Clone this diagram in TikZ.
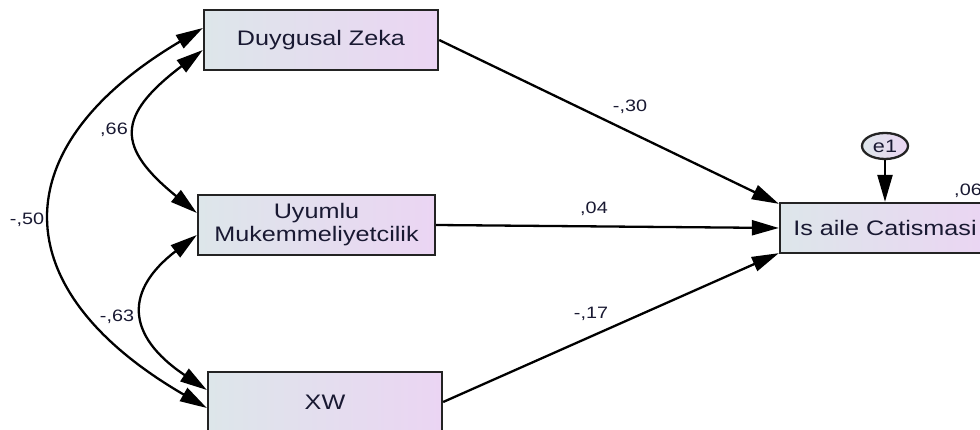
\documentclass[tikz,border=0pt]{standalone}
\usepackage{fontspec}
\setmainfont{Liberation Sans}
\usepackage{graphicx}
\usetikzlibrary{arrows.meta,shapes.geometric}
\definecolor{txt}{RGB}{25,25,50}
\definecolor{fillL}{RGB}{221,230,234}
\definecolor{fillR}{RGB}{235,213,243}
\definecolor{edge}{RGB}{35,35,35}
\newcommand{\sx}[1]{\scalebox{1.2}[1]{#1}}
\tikzset{
  box/.style={draw=edge, line width=2.3pt, left color=fillL, right color=fillR,
    text=txt, font={\fontsize{21}{23}\selectfont}, align=center, inner sep=0pt},
  lbl/.style={text=txt, font={\fontsize{16.5}{18}\selectfont}, inner sep=0pt},
  tip/.tip={Triangle[length=27pt,width=15pt]},
  arr/.style={line width=2.3pt, draw=black, -tip},
  cov/.style={line width=2.3pt, draw=black, tip-tip},
}
\begin{document}
\begin{tikzpicture}[x=1pt,y=-1pt]
\useasboundingbox (0,0) rectangle (980,430);
\fill[white] (0,0) rectangle (980,430);
\clip (0,0) rectangle (980,430);
% boxes
\node[box, minimum width=234pt, minimum height=60pt] (dz) at (321,40) {\sx{Duygusal Zeka}};
\node[box, minimum width=237pt, minimum height=60pt] (um) at (316.5,225) {\sx{Uyumlu}\\\sx{Mukemmeliyetcilik}};
\node[box, minimum width=234pt, minimum height=60pt] (xw) at (325,402) {\sx{XW}};
\node[box, minimum width=210pt, minimum height=50pt] (ia) at (885,228) {\sx{Is aile Catismasi}};
\node[draw=edge, line width=2.3pt, ellipse, left color=fillL, right color=fillR, text=txt,
  font={\fontsize{18}{20}\selectfont}, minimum width=46pt, minimum height=26pt, inner sep=0pt] (e1) at (885,146) {\sx{e1}};
% regression paths
\draw[arr] (dz.east) -- ([yshift=-2pt]ia.north west);
\draw[arr] (um.east) -- (ia.west);
\draw[arr] (xw.east) -- ([yshift=1pt]ia.south west);
\draw[arr] (e1.south) -- (ia.north);
% covariances
\draw[cov] ([yshift=12pt]dz.west) .. controls (2,147) and (2,289) .. ([yshift=-6pt]xw.west);
\draw[cov] ([yshift=-10pt]dz.west) .. controls (116,116) and (116,147) .. ([yshift=12pt]um.west);
\draw[cov] ([yshift=-10pt]um.west) .. controls (125,290) and (125,335) .. ([yshift=12pt]xw.west);
% labels
\node[lbl] (l30) at (630,107) {\sx{-,30}};
\node[lbl] (l04) at (594,209) {\sx{,04}};
\node[lbl] (l17) at (591,314) {\sx{-,17}};
\node[lbl] (l06) at (968,191) {\sx{,06}};
\node[lbl] (l66) at (114,130) {\sx{,66}};
\node[lbl] (l50) at (27,220) {\sx{-,50}};
\node[lbl] (l63) at (117,317) {\sx{-,63}};
\end{tikzpicture}
\end{document}
